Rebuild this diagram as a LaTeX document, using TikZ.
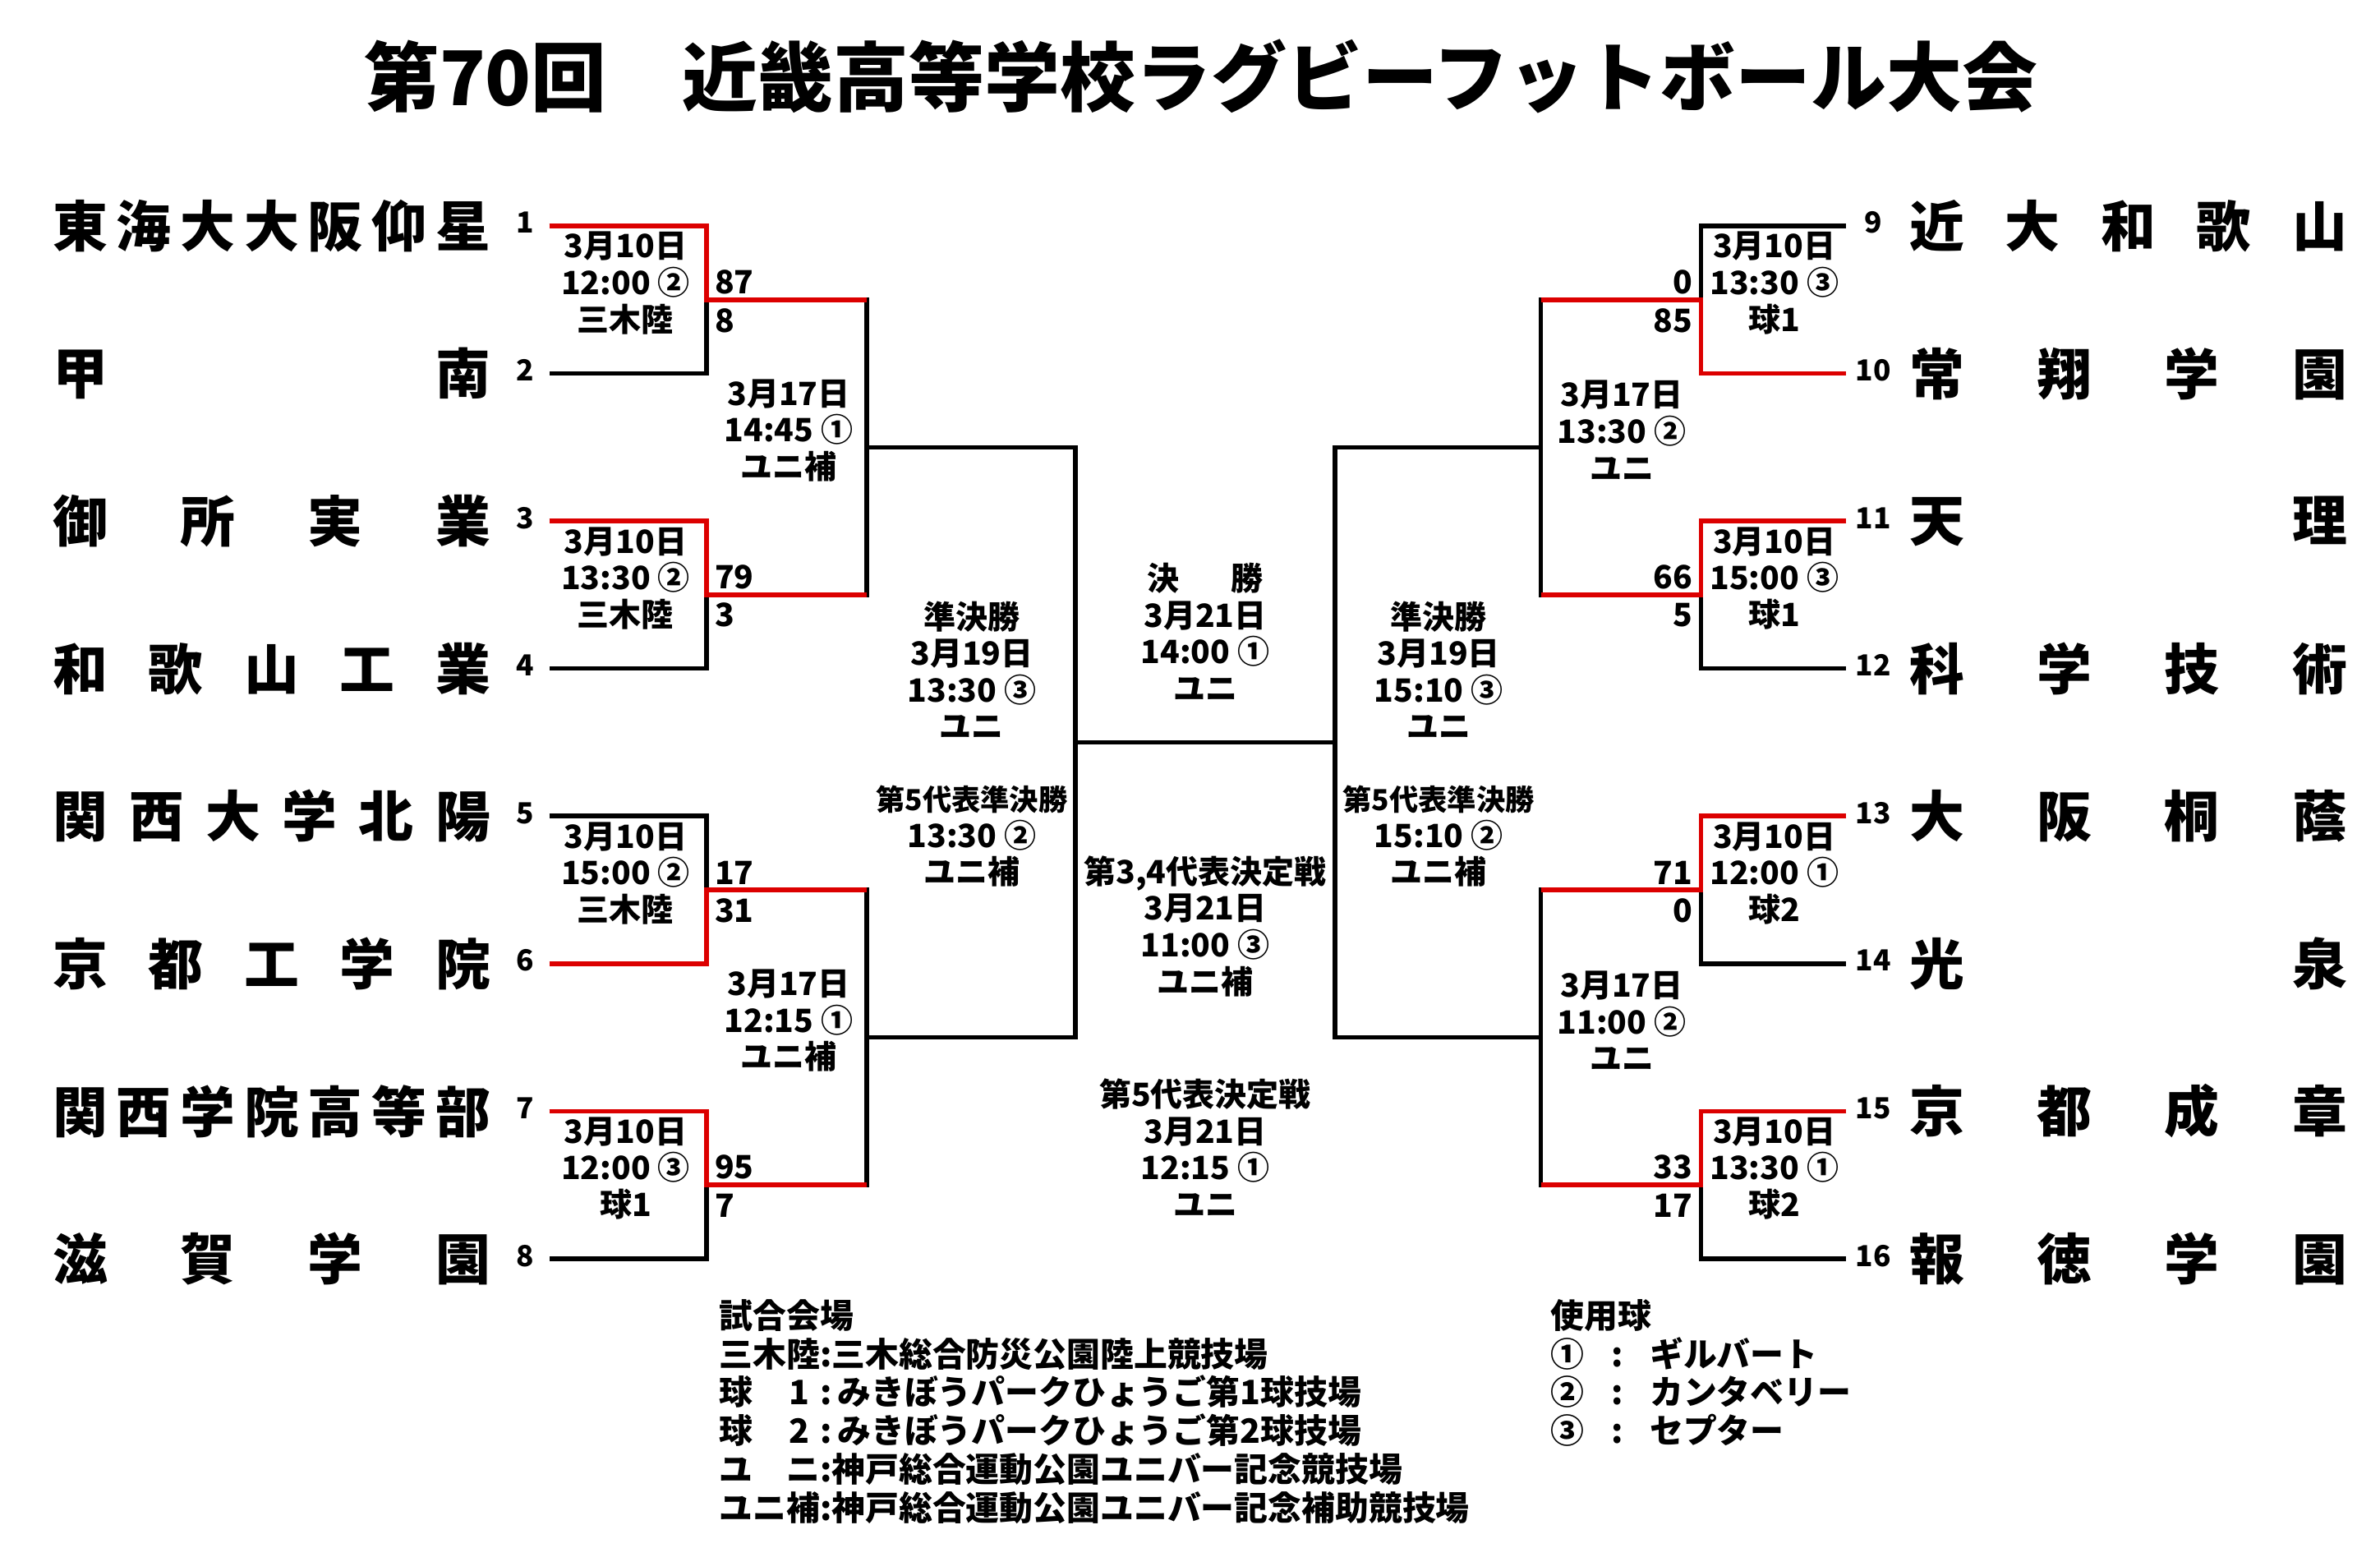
\documentclass[tikz,border=0pt]{standalone}
\usepackage{fontspec}
\setmainfont{Noto Sans CJK JP}
\definecolor{winred}{RGB}{220,0,0}
\newcommand\spreadname[1]{\hbox to 143.5pt{#1}}
\newcommand\vname[1]{\hbox to 3em{#1}}

\tikzset{every picture/.style={line width=1.5pt}}

\begin{document}
\begin{tikzpicture}[x=0.5pt,y=0.5pt,yscale=-1,xscale=1,
  team/.style={inner sep=0pt,anchor=west,font=\fontsize{18}{18}\selectfont\bfseries},
  seed/.style={inner sep=0pt,font=\fontsize{9.5}{10}\selectfont\bfseries},
  info/.style={inner sep=0pt,align=center,font=\fontsize{10.5}{12}\selectfont\bfseries},
  score/.style={inner sep=0pt,font=\fontsize{10.5}{12}\selectfont\bfseries},
  legend/.style={inner sep=0pt,anchor=north west,align=left,font=\fontsize{11}{12.6}\selectfont\bfseries},
  win/.style={color=winred}]
%set diagram size
\path[fill=white,use as bounding box] (0,0) rectangle (1560,1014);

% Title
\draw (787,50) node [inner sep=0pt,font=\fontsize{24.75}{25}\selectfont\bfseries] (title) {第70回　近畿高等学校ラグビーフットボール大会};

%Straight Lines: round 1, left
\foreach \y in {148,341.4,534.8,728.2}
  \draw (360,\y) -- (463,\y) -- (463,\y+96.7) -- (360,\y+96.7);
%Straight Lines: round 1, right
\foreach \y in {148,341.4,534.8,728.2}
  \draw (1210,\y) -- (1115,\y) -- (1115,\y+96.7) -- (1210,\y+96.7);
%Straight Lines: round 2
\foreach \y in {196.4,583.2} {
  \draw (463,\y) -- (568,\y) -- (568,\y+193.4) -- (463,\y+193.4);
  \draw (1115,\y) -- (1010,\y) -- (1010,\y+193.4) -- (1115,\y+193.4);
}
%Straight Lines: semi finals and final
\draw (568,293.1) -- (705,293.1) -- (705,679.9) -- (568,679.9);
\draw (1010,293.1) -- (875,293.1) -- (875,679.9) -- (1010,679.9);
\draw (705,486.5) -- (875,486.5);

%Straight Lines: winners
\draw [win] (360,148) -- (463,148) -- (463,196.4) -- (568,196.4);
\draw [win] (360,341.4) -- (463,341.4) -- (463,389.8) -- (568,389.8);
\draw [win] (360,631.5) -- (463,631.5) -- (463,583.2) -- (568,583.2);
\draw [win] (360,728.2) -- (463,728.2) -- (463,776.6) -- (568,776.6);
\draw [win] (1210,244.7) -- (1115,244.7) -- (1115,196.4) -- (1010,196.4);
\draw [win] (1210,341.4) -- (1115,341.4) -- (1115,389.8) -- (1010,389.8);
\draw [win] (1210,534.8) -- (1115,534.8) -- (1115,583.2) -- (1010,583.2);
\draw [win] (1210,728.2) -- (1115,728.2) -- (1115,776.6) -- (1010,776.6);

% Team names, left
\node [team] (t1) at (33,148) {\spreadname{東\hfill 海\hfill 大\hfill 大\hfill 阪\hfill 仰\hfill 星}};
\node [team] (t2) at (33,244.7) {\spreadname{甲\hfill 南}};
\node [team] (t3) at (33,341.4) {\spreadname{御\hfill 所\hfill 実\hfill 業}};
\node [team] (t4) at (33,438.1) {\spreadname{和\hfill 歌\hfill 山\hfill 工\hfill 業}};
\node [team] (t5) at (33,534.8) {\spreadname{関\hfill 西\hfill 大\hfill 学\hfill 北\hfill 陽}};
\node [team] (t6) at (33,631.5) {\spreadname{京\hfill 都\hfill 工\hfill 学\hfill 院}};
\node [team] (t7) at (33,728.2) {\spreadname{関\hfill 西\hfill 学\hfill 院\hfill 高\hfill 等\hfill 部}};
\node [team] (t8) at (33,824.9) {\spreadname{滋\hfill 賀\hfill 学\hfill 園}};
% Team names, right
\node [team] (t9) at (1250,148) {\spreadname{近\hfill 大\hfill 和\hfill 歌\hfill 山}};
\node [team] (t10) at (1250,244.7) {\spreadname{常\hfill 翔\hfill 学\hfill 園}};
\node [team] (t11) at (1250,341.4) {\spreadname{天\hfill 理}};
\node [team] (t12) at (1250,438.1) {\spreadname{科\hfill 学\hfill 技\hfill 術}};
\node [team] (t13) at (1250,534.8) {\spreadname{大\hfill 阪\hfill 桐\hfill 蔭}};
\node [team] (t14) at (1250,631.5) {\spreadname{光\hfill 泉}};
\node [team] (t15) at (1250,728.2) {\spreadname{京\hfill 都\hfill 成\hfill 章}};
\node [team] (t16) at (1250,824.9) {\spreadname{報\hfill 徳\hfill 学\hfill 園}};

% Seed numbers
\foreach \i in {1,...,8} {
  \node [seed] (n\i) at (344,146+96.7*\i-96.7) {\i};
  \pgfmathtruncatemacro{\j}{\i+8}
  \node [seed] (n\j) at (1228,146+96.7*\i-96.7) {\j};
}

% Round 1 matches
\node [info] (m1) at (410,185.5) {3月10日\\12:00 ②\\三木陸};
\node [info] (m2) at (410,378.9) {3月10日\\13:30 ②\\三木陸};
\node [info] (m3) at (410,572.3) {3月10日\\15:00 ②\\三木陸};
\node [info] (m4) at (410,765.7) {3月10日\\12:00 ③\\球1};
\node [info] (m5) at (1163,185.5) {3月10日\\13:30 ③\\球1};
\node [info] (m6) at (1163,378.9) {3月10日\\15:00 ③\\球1};
\node [info] (m7) at (1163,572.3) {3月10日\\12:00 ①\\球2};
\node [info] (m8) at (1163,765.7) {3月10日\\13:30 ①\\球2};
% Round 2 matches
\node [info] (q1) at (517,282) {3月17日\\14:45 ①\\ユニ補};
\node [info] (q2) at (517,669) {3月17日\\12:15 ①\\ユニ補};
\node [info] (q3) at (1063,282) {3月17日\\13:30 ②\\ユニ};
\node [info] (q4) at (1063,669) {3月17日\\11:00 ②\\ユニ};
% Semi finals
\node [info] (sf1) at (637,439) {準決勝\\3月19日\\13:30 ③\\ユニ};
\node [info] (sf2) at (943,439) {準決勝\\3月19日\\15:10 ③\\ユニ};
\node [info] (sf5a) at (637,548) {{\fontsize{9.5}{12}\selectfont 第5代表準決勝}\\13:30 ②\\ユニ補};
\node [info] (sf5b) at (943,548) {{\fontsize{9.5}{12}\selectfont 第5代表準決勝}\\15:10 ②\\ユニ補};
% Final and placing matches
\node [info] (fin) at (790,414) {決\hspace{1.6em}勝\\3月21日\\14:00 ①\\ユニ};
\node [info] (p34) at (790,607) {第3,4代表決定戦\\3月21日\\11:00 ③\\ユニ補};
\node [info] (p5) at (790,752) {第5代表決定戦\\3月21日\\12:15 ①\\ユニ};

% Scores, left
\node [score,anchor=west] (s1a) at (467,185) {87};
\node [score,anchor=west] (s1b) at (467,210) {8};
\node [score,anchor=west] (s2a) at (467,378) {79};
\node [score,anchor=west] (s2b) at (467,403) {3};
\node [score,anchor=west] (s3a) at (467,572) {17};
\node [score,anchor=west] (s3b) at (467,597) {31};
\node [score,anchor=west] (s4a) at (467,765) {95};
\node [score,anchor=west] (s4b) at (467,790) {7};
% Scores, right
\node [score,anchor=east] (s5a) at (1111,185) {0};
\node [score,anchor=east] (s5b) at (1111,210) {85};
\node [score,anchor=east] (s6a) at (1111,378) {66};
\node [score,anchor=east] (s6b) at (1111,403) {5};
\node [score,anchor=east] (s7a) at (1111,572) {71};
\node [score,anchor=east] (s7b) at (1111,597) {0};
\node [score,anchor=east] (s8a) at (1111,765) {33};
\node [score,anchor=east] (s8b) at (1111,790) {17};

% Legend
\node [legend] (venues) at (470,850) {試合会場\\
  \vname{三\hfill 木\hfill 陸}:三木総合防災公園陸上競技場\\
  \vname{球\hfill 1\hspace{0.3em}}:\,みきぼうパークひょうご第1球技場\\
  \vname{球\hfill 2\hspace{0.3em}}:\,みきぼうパークひょうご第2球技場\\
  \vname{ユ\hfill ニ}:神戸総合運動公園ユニバー記念競技場\\
  \vname{ユ\hfill ニ\hfill 補}:神戸総合運動公園ユニバー記念補助競技場};
\node [legend] (balls) at (1015,850) {使用球\\
  ①\hspace{0.8em}:\hspace{0.8em}ギルバート\\
  ②\hspace{0.8em}:\hspace{0.8em}カンタベリー\\
  ③\hspace{0.8em}:\hspace{0.8em}セプター};

\end{tikzpicture}
\end{document}
